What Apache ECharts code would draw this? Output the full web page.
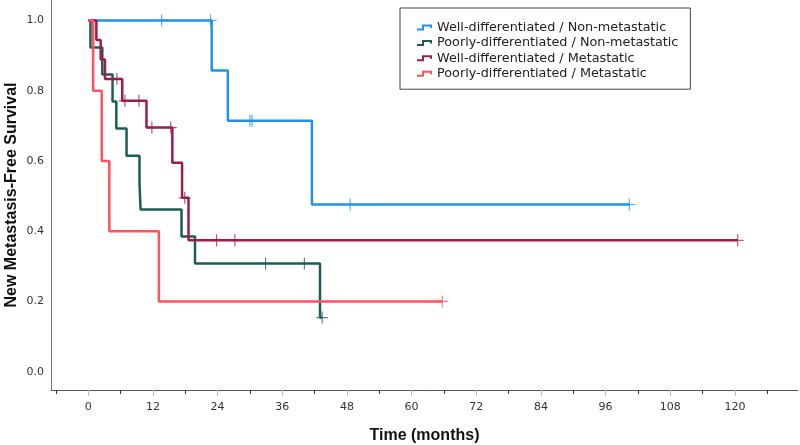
<!DOCTYPE html>
<html><head><meta charset="utf-8">
<script src="https://cdn.jsdelivr.net/npm/echarts@6/dist/echarts.min.js"></script>
<style>html,body{margin:0;padding:0;background:#fff}#c{width:800px;height:445px}</style>
</head><body><div id="c"></div>
<script>
const seriesNames = [
  'Well-differentiated / Non-metastatic',
  'Poorly-differentiated / Non-metastatic',
  'Well-differentiated / Metastatic',
  'Poorly-differentiated / Metastatic'
];
const seriesColors = ['#1f93ea', '#1b5e57', '#9b1c4f', '#ff525d'];

// Well-differentiated / Non-metastatic
const wnTime = [0, 22.9, 25.9, 41.5, 100.4];
const wnSurv = [1.0, 0.857, 0.714, 0.476, 0.476];
const wnCensorTime = [13.6, 22.7, 30.0, 30.4, 48.6, 100.4];
const wnCensorSurv = [1.0, 1.0, 0.714, 0.714, 0.476, 0.476];

// Poorly-differentiated / Non-metastatic
const pnTime = [0, 0.4, 2.6, 4.5, 5.2, 7.1, 9.5, 9.7, 17.3, 19.8, 43.0, 43.4];
const pnSurv = [1.0, 0.923, 0.846, 0.769, 0.692, 0.615, 0.538, 0.462, 0.385, 0.308, 0.154, 0.154];
const pnCensorTime = [32.9, 40.1, 43.4];
const pnCensorSurv = [0.308, 0.308, 0.154];

// Well-differentiated / Metastatic
const wmTime = [0, 1.5, 2.3, 3.1, 6.3, 10.8, 15.6, 17.4, 18.6, 120.5];
const wmSurv = [1.0, 0.944, 0.889, 0.833, 0.771, 0.695, 0.595, 0.495, 0.374, 0.374];
const wmCensorTime = [5.3, 6.8, 9.4, 11.8, 15.3, 17.9, 23.8, 27.2, 120.5];
const wmCensorSurv = [0.833, 0.771, 0.771, 0.695, 0.695, 0.495, 0.374, 0.374, 0.374];

// Poorly-differentiated / Metastatic
const pmTime = [0, 0.9, 2.5, 3.9, 13.1, 65.7];
const pmSurv = [1.0, 0.8, 0.6, 0.4, 0.2, 0.2];
const pmCensorTime = [65.7];
const pmCensorSurv = [0.2];

const xMajorTicks = [0, 12, 24, 36, 48, 60, 72, 84, 96, 108, 120];
const xMinorTicks = [-6, 6, 18, 30, 42, 54, 66, 78, 90, 102, 114, 126];
const yTicks = [0, 0.2, 0.4, 0.6, 0.8, 1.0];

const zip = (a, b) => a.map((v, i) => [v, b[i]]);
const curves = [
  [wnTime, wnSurv, wnCensorTime, wnCensorSurv],
  [pnTime, pnSurv, pnCensorTime, pnCensorSurv],
  [wmTime, wmSurv, wmCensorTime, wmCensorSurv],
  [pmTime, pmSurv, pmCensorTime, pmCensorSurv]
];

const plusPath = 'path://M5.4,0 h1.2 v5.4 h5.4 v1.2 h-5.4 v5.4 h-1.2 v-5.4 h-5.4 v-1.2 h5.4 z';
const stepIcon = 'path://M0,4 L5,4 L5,0 L15,0 L15,3.5 L13,3.5 L13,2 L7,2 L7,6 L0,6 Z';

const series = [];
curves.forEach((c, i) => {
  series.push({
    name: seriesNames[i], type: 'line', step: 'end', symbol: 'none',
    data: zip(c[0], c[1]),
    lineStyle: { color: seriesColors[i], width: 2.5 },
    itemStyle: { color: seriesColors[i] },
    z: 2 + i, animation: false
  });
});
curves.forEach((c, i) => {
  series.push({
    name: seriesNames[i] + ' censored', type: 'scatter',
    symbol: plusPath, symbolSize: 12,
    data: zip(c[2], c[3]),
    itemStyle: { color: seriesColors[i], opacity: 0.75 },
    z: 10, animation: false, silent: true
  });
});

const chart = echarts.init(document.getElementById('c'));
chart.setOption({
  backgroundColor: '#fff',
  animation: false,
  grid: { left: 51, right: 2, top: 0, bottom: 55, containLabel: false, outerBoundsMode: 'none' },
  legend: {
    data: seriesNames.map(n => ({ name: n, icon: stepIcon })),
    orient: 'vertical', left: 400, top: 8,
    padding: [13, 12, 9, 17], itemGap: 2.4,
    itemWidth: 15, itemHeight: 6,
    borderColor: '#444', borderWidth: 1, borderRadius: 0,
    textStyle: { fontFamily: 'DejaVu Sans', fontSize: 12.8, color: '#222' },
    selectedMode: false
  },
  xAxis: [{
    type: 'value', min: -6.92, max: 131.7,
    axisLine: { show: true, onZero: false, lineStyle: { color: '#555', width: 1 } },
    axisTick: { show: true, customValues: xMinorTicks, length: 4, lineStyle: { color: '#333' } },
    axisLabel: { show: false },
    splitLine: { show: false },
    name: 'Time (months)', nameLocation: 'middle', nameGap: 38,
    nameTextStyle: { fontFamily: 'Liberation Sans', fontWeight: 'bold', fontSize: 16, color: '#111' }
  }, {
    type: 'value', min: -6.92, max: 131.7, position: 'bottom', offset: 0,
    axisLine: { show: false, onZero: false },
    axisTick: { show: true, customValues: xMajorTicks, length: 6, lineStyle: { color: '#bbb' } },
    axisLabel: { customValues: xMajorTicks, margin: 12, fontFamily: 'DejaVu Sans', fontSize: 11, color: '#333' },
    splitLine: { show: false }
  }],
  yAxis: {
    type: 'value', min: -0.052, max: 1.058,
    axisLine: { show: true, onZero: false, lineStyle: { color: '#777', width: 1 } },
    axisTick: { show: false },
    axisLabel: { customValues: yTicks, formatter: v => v.toFixed(1), margin: 7, fontFamily: 'DejaVu Sans', fontSize: 11, color: '#333' },
    splitLine: { show: false },
    name: 'New Metastasis-Free Survival', nameLocation: 'middle', nameGap: 31, nameMoveOverlap: false,
    nameTextStyle: { fontFamily: 'Liberation Sans', fontWeight: 'bold', fontSize: 16, color: '#111' }
  },
  series: series
});
</script></body></html>
